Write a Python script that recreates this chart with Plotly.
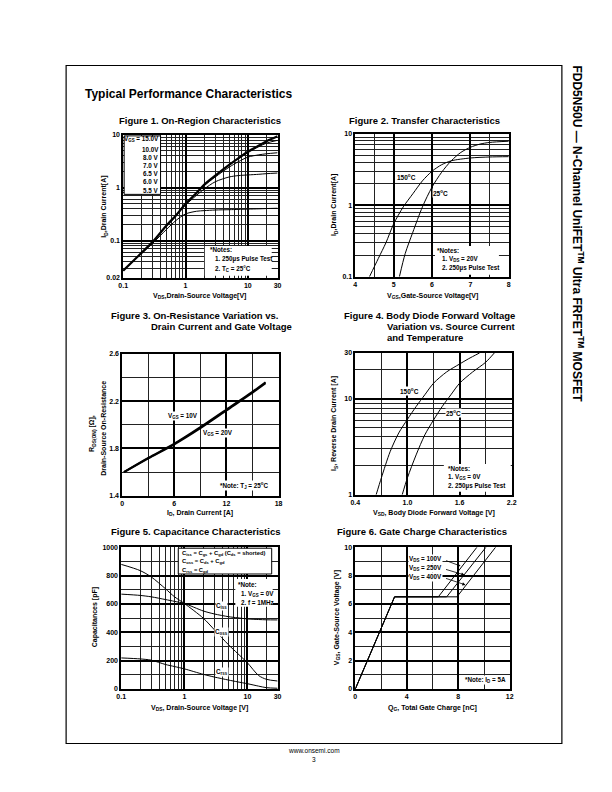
import plotly.graph_objects as go
import math

W, H = 612, 792
FONT = "Liberation Sans"

# ---------------- data ----------------
# Figure 1: On-region characteristics (log-log)
f1_vds = [0.1, 0.15, 0.2, 0.3, 0.5, 0.7, 1, 1.5, 2, 3, 5, 7, 10, 15, 20, 30]
f1_id_top = [0.027, 0.043, 0.06, 0.096, 0.196, 0.3, 0.5, 0.8, 1.15, 1.7, 2.7, 3.6, 4.8, 6.3, 7.6, 9.4]
f1_id_c2 = [0.027, 0.043, 0.06, 0.096, 0.196, 0.3, 0.5, 0.8, 1.15, 1.7, 2.7, 3.6, 4.6, 6.0, 7.0, 7.9]
f1_id_c3 = [0.027, 0.043, 0.06, 0.096, 0.196, 0.3, 0.5, 0.8, 1.1, 1.6, 2.45, 3.1, 3.8, 4.2, 4.4, 4.6]
f1_id_c4 = [0.027, 0.043, 0.06, 0.096, 0.19, 0.29, 0.47, 0.72, 0.95, 1.3, 1.6, 1.7, 1.75, 1.8, 1.85, 1.9]
f1_id_c5 = [0.027, 0.043, 0.058, 0.09, 0.165, 0.24, 0.32, 0.36, 0.37, 0.38, 0.385, 0.39, 0.395, 0.4, 0.405, 0.41]
f1_vgs_labels = ["15.0V", "10.0V", "8.0 V", "7.0 V", "6.5 V", "6.0 V", "5.5 V"]
f1_xticks = [0.1, 1, 10, 30]
f1_yticks = [0.02, 0.1, 1, 10]

# Figure 2: transfer characteristics
f2_vgs_25 = [5.15, 5.3, 5.5, 5.75, 6.0, 6.25, 6.5, 6.75, 7.0, 7.25, 7.5, 8.0]
f2_id_25 = [0.1, 0.21, 0.42, 0.95, 1.8, 2.9, 4.2, 5.5, 6.5, 7.2, 7.6, 7.9]
f2_vgs_150 = [4.37, 4.6, 4.8, 5.0, 5.25, 5.5, 5.75, 6.0, 6.25, 6.5, 7.0, 7.5, 8.0]
f2_id_150 = [0.1, 0.18, 0.3, 0.55, 0.95, 1.45, 2.2, 3.0, 3.7, 4.2, 4.6, 4.75, 4.8]
f2_xticks = [4, 5, 6, 7, 8]
f2_yticks = [0.1, 1, 10]

# Figure 3: on-resistance
f3_id = [0.2, 3, 6, 9, 12, 15, 16.5]
f3_r_10v = [1.60, 1.72, 1.84, 1.98, 2.13, 2.28, 2.36]
f3_r_20v = [1.60, 1.715, 1.835, 1.972, 2.122, 2.272, 2.352]
f3_xticks = [0, 6, 12, 18]
f3_yticks = [1.4, 1.8, 2.2, 2.6]

# Figure 4: body diode forward voltage
f4_vsd_150 = [0.64, 0.7, 0.8, 0.9, 1.0, 1.1, 1.2, 1.3, 1.45, 1.6, 1.7, 1.83]
f4_is_150 = [1, 1.5, 2.8, 4.4, 6.1, 8.3, 11, 14.5, 19, 23, 26, 30]
f4_vsd_25 = [0.94, 1.0, 1.1, 1.2, 1.3, 1.4, 1.5, 1.6, 1.75, 1.9, 2.0]
f4_is_25 = [1, 1.5, 2.6, 4.2, 6.0, 8.3, 11, 14.5, 19, 24, 30]
f4_xticks = [0.4, 1.0, 1.6, 2.2]
f4_yticks = [1, 10, 30]

# Figure 5: capacitance
f5_vds = [0.1, 0.2, 0.3, 0.5, 0.7, 1, 2, 3, 5, 7, 10, 15, 20, 30]
f5_coss = [879, 835, 790, 708, 650, 603, 499, 417, 312, 250, 184, 95, 68, 56]
f5_ciss = [669, 660, 650, 631, 618, 603, 550, 529, 510, 502, 494, 490, 488, 487]
f5_crss = [219, 212, 203, 173, 158, 142, 103, 84, 63, 50, 37, 20, 9, 5]
f5_xticks = [0.1, 1, 10, 30]
f5_yticks = [0, 200, 400, 600, 800, 1000]

# Figure 6: gate charge
f6_vgs = [0, 6.5, 6.5, 10]
f6_qg_100 = [0, 3.05, 6.45, 9.45]
f6_qg_250 = [0, 3.05, 7.1, 10.15]
f6_qg_400 = [0, 3.05, 7.9, 10.9]
f6_xticks = [0, 4, 8, 12]
f6_yticks = [0, 2, 4, 6, 8, 10]


# ---------------- helpers ----------------
def px(x):
    return x / W


def py(y):
    return 1 - y / H


def fmt(v):
    return "%g" % v


def fmt1(v):
    return "%.1f" % v


fig = go.Figure()
annotations = []
shapes = []


def text(x, y, s, size=7, xanchor="center", bold=True, bg=None, angle=0, yanchor="middle"):
    a = dict(x=px(x), y=py(y), xref="paper", yref="paper", text=s, showarrow=False,
             xanchor=xanchor, yanchor=yanchor, textangle=angle,
             font=dict(family=FONT, size=size, color="black", weight="bold" if bold else "normal"),
             borderpad=0)
    if bg:
        a["bgcolor"] = bg
    annotations.append(a)


def rect(x0, y0, x1, y1, border=False):
    shapes.append(dict(type="rect", xref="paper", yref="paper", x0=px(x0), x1=px(x1),
                       y0=py(y1), y1=py(y0), fillcolor="white",
                       line=dict(color="black", width=1 if border else 0), layer="above"))


boxes = {
    1: (112, 269, 124, 268),
    2: (348, 504, 123, 267),
    3: (111, 270, 345, 488),
    4: (348, 507, 344, 487),
    5: (110, 269, 540, 683),
    6: (348, 505, 540, 683),
}


def axis(n, which, kind, rng, tickvals, ticktext, minor_vals):
    l, r, t, b = boxes[n]
    dom = [px(l), px(r)] if which == "x" else [py(b), py(t)]
    anchor = ("y" if which == "x" else "x") + ("" if n == 1 else str(n))
    return dict(type=kind, domain=dom, range=rng, anchor=anchor,
                showline=True, mirror=True, linecolor="black", linewidth=1.6,
                ticks="", tickmode="array", tickvals=tickvals, ticktext=ticktext,
                tickfont=dict(family=FONT, size=7, color="black", weight="bold"),
                showgrid=True, gridcolor="black", gridwidth=1.6, zeroline=False,
                minor=dict(tickmode="array", tickvals=minor_vals, showgrid=True,
                           gridcolor="#222", gridwidth=0.7, ticks=""),
                fixedrange=True)


def line_trace(n, x, y, width=1.0, smooth=True):
    suffix = "" if n == 1 else str(n)
    ln = dict(color="black", width=width)
    if smooth:
        ln.update(shape="spline", smoothing=0.8)
    fig.add_trace(go.Scatter(x=x, y=y, mode="lines", xaxis="x" + suffix, yaxis="y" + suffix,
                             line=ln, hoverinfo="skip", showlegend=False))


def dec_minor(lo, hi):
    return [m * 10 ** e for e in range(lo, hi) for m in range(2, 10)]


layout_axes = {}
layout_axes["xaxis"] = axis(1, "x", "log", [math.log10(0.1), math.log10(30)], f1_xticks,
                            [fmt(v) for v in f1_xticks], dec_minor(-1, 1) + [20])
layout_axes["yaxis"] = axis(1, "y", "log", [math.log10(0.02), math.log10(10)], f1_yticks,
                            [fmt(v) for v in f1_yticks],
                            [0.03, 0.04, 0.05, 0.06, 0.07, 0.08, 0.09] + dec_minor(-1, 1))
layout_axes["xaxis2"] = axis(2, "x", "linear", [4, 8], f2_xticks, [fmt(v) for v in f2_xticks], [4.5, 7.5])
layout_axes["yaxis2"] = axis(2, "y", "log", [-1, 1], f2_yticks, [fmt(v) for v in f2_yticks], dec_minor(-1, 1))
layout_axes["xaxis3"] = axis(3, "x", "linear", [0, 18], f3_xticks, [fmt(v) for v in f3_xticks], [3, 9, 15])
layout_axes["yaxis3"] = axis(3, "y", "linear", [1.4, 2.6], f3_yticks, [fmt1(v) for v in f3_yticks],
                             [1.6, 2.0, 2.4])
layout_axes["xaxis4"] = axis(4, "x", "linear", [0.4, 2.2], f4_xticks, [fmt1(v) for v in f4_xticks],
                             [0.7, 1.3, 1.9])
layout_axes["yaxis4"] = axis(4, "y", "log", [0, math.log10(30)], f4_yticks, [fmt(v) for v in f4_yticks],
                             dec_minor(0, 1) + [20])
layout_axes["xaxis5"] = axis(5, "x", "log", [math.log10(0.1), math.log10(30)], f5_xticks,
                             [fmt(v) for v in f5_xticks], dec_minor(-1, 1) + [20])
layout_axes["yaxis5"] = axis(5, "y", "linear", [0, 1000], f5_yticks, [fmt(v) for v in f5_yticks],
                             [100, 300, 500, 700, 900])
layout_axes["xaxis6"] = axis(6, "x", "linear", [0, 12], f6_xticks, [fmt(v) for v in f6_xticks], [2, 6, 10])
layout_axes["yaxis6"] = axis(6, "y", "linear", [0, 10], f6_yticks, [fmt(v) for v in f6_yticks],
                             [1, 3, 5, 7, 9])

# ---------------- traces ----------------
line_trace(1, f1_vds, f1_id_c5)
line_trace(1, f1_vds, f1_id_c4)
line_trace(1, f1_vds, f1_id_c3)
line_trace(1, f1_vds, f1_id_c2)
line_trace(1, f1_vds, f1_id_top, 2.2)

line_trace(2, f2_vgs_150, f2_id_150)
line_trace(2, f2_vgs_25, f2_id_25)

line_trace(3, f3_id, f3_r_10v, 2.0)
line_trace(3, f3_id, f3_r_20v, 2.0)

line_trace(4, f4_vsd_150, f4_is_150)
line_trace(4, f4_vsd_25, f4_is_25)

line_trace(5, f5_vds, f5_coss)
line_trace(5, f5_vds, f5_ciss)
line_trace(5, f5_vds, f5_crss)

line_trace(6, f6_qg_100, f6_vgs, smooth=False)
line_trace(6, f6_qg_250, f6_vgs, smooth=False)
line_trace(6, f6_qg_400, f6_vgs, smooth=False)

# ---------------- page text ----------------
text(72, 83, "Typical Performance Characteristics", size=12, xanchor="left")
text(574, 224, "FDD5N50U — N-Channel UniFET<sup>TM</sup> Ultra FRFET<sup>TM</sup> MOSFET",
     size=12, angle=90)
text(306, 745, "www.onsemi.com", size=6.5, bold=False)
text(306, 754, "3", size=6.5, bold=False)

# titles
text(190, 109, "Figure 1. On-Region Characteristics", size=9.5)
text(418, 109, "Figure 2. Transfer Characteristics", size=9.5)
text(99, 306, "Figure 3. On-Resistance Variation vs.", size=9.5, xanchor="left")
text(139, 317, "Drain Current and Gate Voltage", size=9.5, xanchor="left")
text(335, 306, "Figure 4. Body Diode Forward Voltage", size=9.5, xanchor="left")
text(379, 317, "Variation vs. Source Current", size=9.5, xanchor="left")
text(379, 328, "and Temperature", size=9.5, xanchor="left")
text(186, 524, "Figure 5. Capacitance Characteristics", size=9.5)
text(416, 524, "Figure 6. Gate Charge Characteristics", size=9.5)

# axis titles
text(93, 196, "I<sub>D</sub>,Drain Current[A]", size=7, angle=-90)
text(190, 287, "V<sub>DS</sub>,Drain-Source Voltage[V]", size=7)
text(327, 195, "I<sub>D</sub>,Drain Current[A]", size=7, angle=-90)
text(426, 287, "V<sub>GS</sub>,Gate-Source Voltage[V]", size=7)
text(81, 425, "R<sub>DS(ON)</sub> [Ω],", size=7, angle=-90)
text(92, 420, "Drain-Source On-Resistance", size=7, angle=-90)
text(190, 505, "I<sub>D</sub>, Drain Current [A]", size=7)
text(327, 415, "I<sub>S</sub>, Reverse Drain Current [A]", size=7, angle=-90)
text(428, 505, "V<sub>SD</sub>, Body Diode Forward Voltage [V]", size=7)
text(83, 611, "Capacitances [pF]", size=7, angle=-90)
text(190, 702, "V<sub>DS</sub>, Drain-Source Voltage [V]", size=7)
text(329, 611, "V<sub>GS</sub>, Gate-Source Voltage [V]", size=7, angle=-90)
text(426, 702, "Q<sub>G</sub>, Total Gate Charge [nC]", size=7)

# Figure 1 legend box and notes
rect(113, 125, 150, 184, border=True)
text(149, 128.5, "V<sub>GS</sub> = " + f1_vgs_labels[0], size=6.3, xanchor="right")
for i, lab in enumerate(f1_vgs_labels[1:]):
    text(149, 138.3 + i * 8.3, lab, size=6.3, xanchor="right")
rect(195, 236, 263, 266)
text(199, 240, "*Notes:", size=6.3, xanchor="left")
text(204, 249.5, "1. 250µs Pulse Test", size=6.3, xanchor="left")
text(204, 259, "2. T<sub>C</sub> = 25°C", size=6.3, xanchor="left")

# Figure 2 labels and notes
text(400, 166, "150<sup>o</sup>C", size=6.5, bg="white")
text(435, 183, "25<sup>o</sup>C", size=6.5, bg="white")
rect(429, 236, 494, 265)
text(430, 240.5, "*Notes:", size=6.3, xanchor="left")
text(435, 249.5, "1. V<sub>DS</sub> = 20V", size=6.3, xanchor="left")
text(435, 258.5, "2. 250µs Pulse Test", size=6.3, xanchor="left")

# Figure 3 labels
text(173, 408, "V<sub>GS</sub> = 10V", size=6.3, bg="white")
text(208, 425, "V<sub>GS</sub> = 20V", size=6.3, bg="white")
text(235, 478, "*Note: T<sub>J</sub> = 25<sup>o</sup>C", size=6.3, bg="white")

# Figure 4 labels and notes
text(403, 382, "150<sup>o</sup>C", size=6.5, bg="white")
text(448, 405, "25<sup>o</sup>C", size=6.5, bg="white")
rect(438, 456, 506, 484)
text(441, 461, "*Notes:", size=6.3, xanchor="left")
text(441, 469.5, "1. V<sub>GS</sub> = 0V", size=6.3, xanchor="left")
text(441, 478, "2. 250µs Pulse Test", size=6.3, xanchor="left")

# Figure 5 boxes and labels
rect(168, 541, 263, 567, border=True)
text(171, 546, "C<sub>iss</sub> = C<sub>gs</sub> + C<sub>gd</sub> (C<sub>ds</sub> = shorted)", size=5.8,
     xanchor="left")
text(171, 554.5, "C<sub>oss</sub> = C<sub>ds</sub> + C<sub>gd</sub>", size=5.8, xanchor="left")
text(171, 563, "C<sub>rss</sub> = C<sub>gd</sub>", size=5.8, xanchor="left")
rect(226, 572, 264, 600)
text(228, 578, "*Note:", size=6.3, xanchor="left")
text(231, 587, "1. V<sub>GS</sub> = 0V", size=6.3, xanchor="left")
text(231, 596, "2. f = 1MHz", size=6.3, xanchor="left")
text(212, 599, "C<sub>iss</sub>", size=6.3, bg="white")
text(212, 626, "C<sub>oss</sub>", size=6.3, bg="white")
text(212, 666, "C<sub>rss</sub>", size=6.3, bg="white")

# Figure 6 labels with arrows
f6_labels = ["V<sub>DS</sub> = 100V", "V<sub>DS</sub> = 250V", "V<sub>DS</sub> = 400V"]
for i, lab in enumerate(f6_labels):
    text(402, 552 + i * 9, lab, size=6.3, xanchor="left", bg="white")
arrow_heads = [(455, 559), (459, 568), (460, 578)]
for i, (hx, hy) in enumerate(arrow_heads):
    tx, ty = 439, 553 + i * 9
    annotations.append(dict(x=px(hx), y=py(hy), xref="paper", yref="paper", text="",
                            showarrow=True, arrowhead=2, arrowsize=0.8, arrowwidth=0.8,
                            arrowcolor="black", ax=tx - hx, ay=ty - hy, standoff=0))
text(480, 674, "*Note: I<sub>D</sub> = 5A", size=6.3, bg="white")

# page frame
shapes.append(dict(type="rect", xref="paper", yref="paper", x0=px(54), x1=px(558),
                   y0=py(738), y1=py(54), line=dict(color="black", width=1.2), layer="below"))

fig.update_layout(width=W, height=H, margin=dict(l=0, r=0, t=0, b=0),
                  paper_bgcolor="white", plot_bgcolor="white", showlegend=False,
                  annotations=annotations, shapes=shapes, **layout_axes)

fig.write_html("out.html")
